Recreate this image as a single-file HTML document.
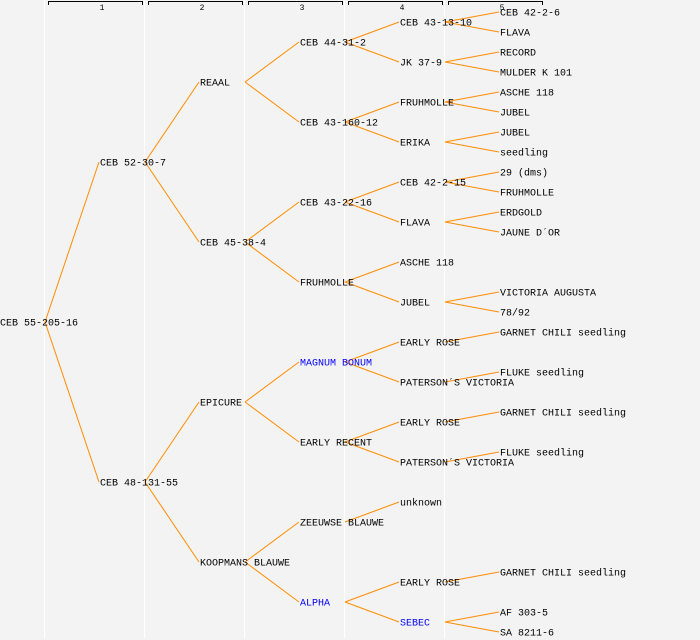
<!DOCTYPE html>
<html><head><meta charset="utf-8"><style>
html,body{margin:0;padding:0;background:#f3f3f3;}
svg{display:block;}
text{font-family:"Liberation Mono",monospace;font-size:10px;fill:#000;}
.b{fill:#0000ff;}
.n{font-size:8px;}
</style></head><body>
<svg width="700" height="640" viewBox="0 0 700 640" xmlns="http://www.w3.org/2000/svg">
<rect width="700" height="640" fill="#f3f3f3"/>
<g stroke="#ffffff" stroke-width="1.2">
<line x1="44.5" y1="0" x2="44.5" y2="638"/>
<line x1="144.5" y1="0" x2="144.5" y2="638"/>
<line x1="244.5" y1="0" x2="244.5" y2="638"/>
<line x1="344.5" y1="0" x2="344.5" y2="638"/>
<line x1="444.5" y1="0" x2="444.5" y2="638"/>
</g>
<g stroke="#000" stroke-width="1" fill="none">
<path d="M48.5 5V1.5H142.5V5"/>
<path d="M148.5 5V1.5H242.5V5"/>
<path d="M248.5 5V1.5H342.5V5"/>
<path d="M348.5 5V1.5H442.5V5"/>
<path d="M448.5 5V1.5H542.5V5"/>
</g>
<g class="n" text-anchor="middle">
<text class="n" x="102" y="10">1</text>
<text class="n" x="202" y="10">2</text>
<text class="n" x="302" y="10">3</text>
<text class="n" x="402" y="10">4</text>
<text class="n" x="502" y="10">5</text>
</g>
<g stroke="#ff8c00" stroke-width="1" fill="none">
<path d="M45 322L99 162M45 322L99 482"/>
<path d="M145 162L199 82M145 162L199 242M145 482L199 402M145 482L199 562"/>
<path d="M245 82L299 42M245 82L299 122M245 242L299 202M245 242L299 282M245 402L299 362M245 402L299 442M245 562L299 522M245 562L299 602"/>
<path d="M345 42L399 22M345 42L399 62M345 122L399 102M345 122L399 142M345 202L399 182M345 202L399 222M345 282L399 262M345 282L399 302M345 362L399 342M345 362L399 382M345 442L399 422M345 442L399 462M345 522L399 502M345 602L399 582M345 602L399 622"/>
<path d="M445 22L499 12M445 22L499 32M445 62L499 52M445 62L499 72M445 102L499 92M445 102L499 112M445 142L499 132M445 142L499 152M445 182L499 172M445 182L499 192M445 222L499 212M445 222L499 232M445 302L499 292M445 302L499 312M445 342L499 332M445 382L499 372M445 422L499 412M445 462L499 452M445 582L499 572M445 622L499 612M445 622L499 632"/>
</g>
<text x="0" y="325.5">CEB 55-205-16</text>
<text x="100" y="165.5">CEB 52-30-7</text>
<text x="100" y="485.5">CEB 48-131-55</text>
<text x="200" y="85.5">REAAL</text>
<text x="200" y="245.5">CEB 45-38-4</text>
<text x="200" y="405.5">EPICURE</text>
<text x="200" y="565.5">KOOPMANS BLAUWE</text>
<text x="300" y="45.5">CEB 44-31-2</text>
<text x="300" y="125.5">CEB 43-160-12</text>
<text x="300" y="205.5">CEB 43-22-16</text>
<text x="300" y="285.5">FRUHMOLLE</text>
<text x="300" y="365.5" class="b">MAGNUM BONUM</text>
<text x="300" y="445.5">EARLY RECENT</text>
<text x="300" y="525.5">ZEEUWSE BLAUWE</text>
<text x="300" y="605.5" class="b">ALPHA</text>
<text x="400" y="25.5">CEB 43-13-10</text>
<text x="400" y="65.5">JK 37-9</text>
<text x="400" y="105.5">FRUHMOLLE</text>
<text x="400" y="145.5">ERIKA</text>
<text x="400" y="185.5">CEB 42-2-15</text>
<text x="400" y="225.5">FLAVA</text>
<text x="400" y="265.5">ASCHE 118</text>
<text x="400" y="305.5">JUBEL</text>
<text x="400" y="345.5">EARLY ROSE</text>
<text x="400" y="385.5">PATERSON´S VICTORIA</text>
<text x="400" y="425.5">EARLY ROSE</text>
<text x="400" y="465.5">PATERSON´S VICTORIA</text>
<text x="400" y="505.5">unknown</text>
<text x="400" y="585.5">EARLY ROSE</text>
<text x="400" y="625.5" class="b">SEBEC</text>
<text x="500" y="15.5">CEB 42-2-6</text>
<text x="500" y="35.5">FLAVA</text>
<text x="500" y="55.5">RECORD</text>
<text x="500" y="75.5">MULDER K 101</text>
<text x="500" y="95.5">ASCHE 118</text>
<text x="500" y="115.5">JUBEL</text>
<text x="500" y="135.5">JUBEL</text>
<text x="500" y="155.5">seedling</text>
<text x="500" y="175.5">29 (dms)</text>
<text x="500" y="195.5">FRUHMOLLE</text>
<text x="500" y="215.5">ERDGOLD</text>
<text x="500" y="235.5">JAUNE D´OR</text>
<text x="500" y="295.5">VICTORIA AUGUSTA</text>
<text x="500" y="315.5">78/92</text>
<text x="500" y="335.5">GARNET CHILI seedling</text>
<text x="500" y="375.5">FLUKE seedling</text>
<text x="500" y="415.5">GARNET CHILI seedling</text>
<text x="500" y="455.5">FLUKE seedling</text>
<text x="500" y="575.5">GARNET CHILI seedling</text>
<text x="500" y="615.5">AF 303-5</text>
<text x="500" y="635.5">SA 8211-6</text>
</svg>
</body></html>
